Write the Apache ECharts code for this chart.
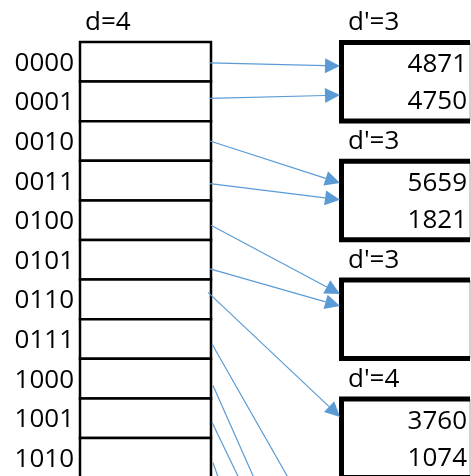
<!DOCTYPE html>
<html><head><meta charset="utf-8">
<script src="https://cdn.jsdelivr.net/npm/echarts@6/dist/echarts.min.js"></script>
<style>html,body{margin:0;padding:0;background:#fff}#c{width:471px;height:476px}</style>
</head><body><div id="c"></div>
<script>
// ---- data ----
const globalDepth = 4;
const dirLabels = ['0000','0001','0010','0011','0100','0101','0110','0111','1000','1001','1010'];
const bucketDepths = [3, 3, 3, 4];
const bucketKeys = [[4871, 4750], [5659, 1821], [], [3760, 1074]];
const pointerBucket = [0, 0, 1, 1, 2, 2, 3, 4, 5, 5, 6];

// ---- layout (pixels in axis units) ----
const L = {
  dirTop: 42, rowH: 39.6, dirLeft: 80, dirRight: 211,
  bucketLeft: 341.5, bucketRight: 470, bucketH: 78.5,
  tipX: 340, headLen: 15, headHalf: 7.5,
  font: '26px "Open Sans", Lato, sans-serif'
};
const arrowStartX = [210, 210, 210, 210, 211, 210, 208, 212, 213, 212, 213];
const arrowStartDy = [1, -3, 0, 3, 5, 9, -7, 5, 7, 4, 5];
const arrowEndFrac = [0.30, 0.67, 0.276, 0.49, 0.177, 0.33, 0.23, 0.65, 0.45, 0.66, 0.8];

const bucketTop = k => L.dirTop + 3 * k * L.rowH + 0.5;
const rowCenter = i => L.dirTop + (i + 0.5) * L.rowH;

const chart = echarts.init(document.getElementById('c'));

function dirItem(params, api) {
  const i = api.value(0);
  const p0 = api.coord([L.dirLeft, L.dirTop + i * L.rowH]);
  const p1 = api.coord([L.dirRight, L.dirTop + (i + 1) * L.rowH]);
  const children = [
    { type: 'rect', shape: { x: p0[0], y: p0[1], width: p1[0] - p0[0], height: p1[1] - p0[1] },
      style: { fill: '#fff', stroke: '#000', lineWidth: 2.5 } },
    { type: 'text', style: { text: dirLabels[i], x: p0[0] - 6, y: (p0[1] + p1[1]) / 2 + 1.5,
      align: 'right', verticalAlign: 'middle', font: L.font, fill: '#000' } }
  ];
  if (i === 0) {
    children.push({ type: 'text', style: { text: 'd=' + globalDepth, x: p0[0] + 5, y: p0[1] - 19.5,
      align: 'left', verticalAlign: 'middle', font: L.font, fill: '#000' } });
  }
  return { type: 'group', children };
}

function bucketItem(params, api) {
  const k = api.value(0);
  const t = bucketTop(k), b = t + L.bucketH;
  const tl = api.coord([L.bucketLeft, t]);
  const br = api.coord([L.bucketRight, b]);
  const children = [
    { type: 'rect', shape: { x: tl[0], y: tl[1], width: br[0] - tl[0], height: br[1] - tl[1] },
      style: { fill: '#fff', stroke: '#a6a6a6', lineWidth: 1 } },
    { type: 'polyline', shape: { points: [[br[0], tl[1]], [tl[0], tl[1]], [tl[0], br[1]], [br[0], br[1]]] },
      style: { stroke: '#000', lineWidth: 5, fill: null, lineJoin: 'miter' } },
    { type: 'text', style: { text: "d'=" + bucketDepths[k], x: tl[0] + 6.5, y: tl[1] - 19.5,
      align: 'left', verticalAlign: 'middle', font: L.font, fill: '#000' } }
  ];
  const mid = (tl[1] + br[1]) / 2;
  bucketKeys[k].forEach((v, j) => {
    children.push({ type: 'text', style: { text: String(v), x: br[0] - 3, y: mid + (j === 0 ? -18.5 : 18.5) + 1.5,
      align: 'right', verticalAlign: 'middle', font: L.font, fill: '#000' } });
  });
  return { type: 'group', children };
}

function arrowItem(params, api) {
  const i = api.value(0);
  const k = pointerBucket[i];
  const s = api.coord([arrowStartX[i], rowCenter(i) + arrowStartDy[i]]);
  const e = api.coord([L.tipX, bucketTop(k) + arrowEndFrac[i] * L.bucketH]);
  const dx = e[0] - s[0], dy = e[1] - s[1];
  const len = Math.sqrt(dx * dx + dy * dy);
  const ux = dx / len, uy = dy / len;
  const bx = e[0] - ux * L.headLen, by = e[1] - uy * L.headLen;
  const px = -uy * L.headHalf, py = ux * L.headHalf;
  return { type: 'group', children: [
    { type: 'line', shape: { x1: s[0], y1: s[1], x2: bx, y2: by },
      style: { stroke: '#5B9BD5', lineWidth: 1.2 } },
    { type: 'polygon', shape: { points: [[e[0], e[1]], [bx + px, by + py], [bx - px, by - py]] },
      style: { fill: '#5B9BD5', stroke: null } }
  ]};
}

chart.setOption({
  animation: false,
  backgroundColor: '#fff',
  grid: { left: 0, right: 0, top: 0, bottom: 0 },
  xAxis: { type: 'value', min: 0, max: 471, show: false },
  yAxis: { type: 'value', min: 0, max: 476, inverse: true, show: false },
  series: [
    { type: 'custom', renderItem: dirItem, data: dirLabels.map((_, i) => ({ value: [i, 0] })), z: 1 },
    { type: 'custom', renderItem: bucketItem, data: bucketDepths.map((_, k) => ({ value: [k, 0] })), z: 2 },
    { type: 'custom', renderItem: arrowItem, data: pointerBucket.map((_, i) => ({ value: [i, 0] })), z: 3 }
  ]
});
</script></body></html>
